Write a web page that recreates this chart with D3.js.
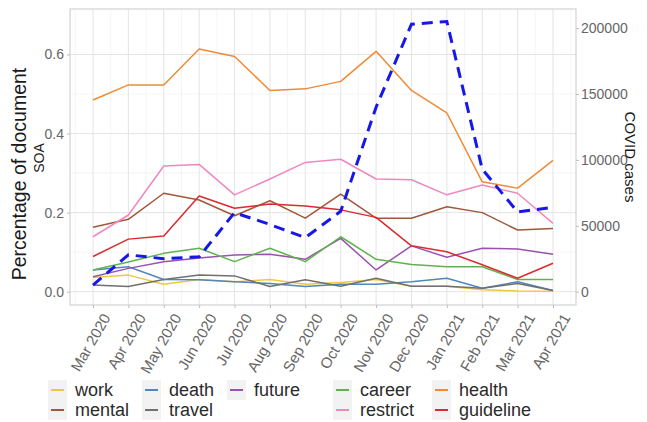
<!DOCTYPE html>
<html>
<head>
<meta charset="utf-8">
<script src="https://cdn.jsdelivr.net/npm/d3@7"></script>
<style>
  html, body { margin: 0; padding: 0; background: #fff; }
  svg { display: block; font-family: "Liberation Sans", Arial, sans-serif; }
</style>
</head>
<body>
<svg id="chart" width="647" height="422"></svg>
<script>
// Monthly share of documents per theme, with monthly COVID cases
const months = ["Mar 2020", "Apr 2020", "May 2020", "Jun 2020", "Jul 2020", "Aug 2020", "Sep 2020",
                "Oct 2020", "Nov 2020", "Dec 2020", "Jan 2021", "Feb 2021", "Mar 2021", "Apr 2021"];

const work      = [0.036, 0.042, 0.019, 0.031, 0.025, 0.031, 0.019, 0.023, 0.031, 0.014, 0.014, 0.005, 0.002, 0.001];
const mental    = [0.163, 0.183, 0.249, 0.232, 0.192, 0.230, 0.186, 0.247, 0.186, 0.186, 0.215, 0.200, 0.156, 0.160];
const death     = [0.055, 0.063, 0.031, 0.030, 0.025, 0.021, 0.013, 0.019, 0.019, 0.025, 0.034, 0.009, 0.025, 0.003];
const travel    = [0.017, 0.013, 0.031, 0.042, 0.040, 0.013, 0.030, 0.014, 0.034, 0.014, 0.014, 0.009, 0.021, 0.003];
const future    = [0.038, 0.059, 0.076, 0.085, 0.093, 0.095, 0.082, 0.135, 0.055, 0.116, 0.087, 0.110, 0.108, 0.095];
const career    = [0.055, 0.075, 0.097, 0.110, 0.076, 0.110, 0.076, 0.139, 0.082, 0.069, 0.063, 0.063, 0.031, 0.031];
const restrict  = [0.139, 0.194, 0.318, 0.322, 0.245, 0.285, 0.327, 0.335, 0.285, 0.283, 0.245, 0.270, 0.249, 0.173];
const health    = [0.485, 0.523, 0.523, 0.614, 0.595, 0.509, 0.513, 0.532, 0.608, 0.509, 0.452, 0.278, 0.262, 0.332];
const guideline = [0.089, 0.133, 0.141, 0.242, 0.211, 0.222, 0.217, 0.207, 0.188, 0.116, 0.101, 0.068, 0.034, 0.072];

const covidCases = [5000, 28000, 25000, 26500, 60000, 51000, 41000, 61000, 140000, 203000, 205000, 93000, 60500, 64000];

const leftTicks  = [0.0, 0.2, 0.4, 0.6];
const rightTicks = [0, 50000, 100000, 150000, 200000];
const casesPerUnit = 300000; // secondary axis: cases = share * 300000

const series = [
  { name: "work",      values: work,      color: "#EDC845" },
  { name: "mental",    values: mental,    color: "#A0583A" },
  { name: "death",     values: death,     color: "#5086C2" },
  { name: "travel",    values: travel,    color: "#707070" },
  { name: "future",    values: future,    color: "#9A52AE" },
  { name: "career",    values: career,    color: "#5FB34E" },
  { name: "restrict",  values: restrict,  color: "#EE88BF" },
  { name: "health",    values: health,    color: "#F08A35" },
  { name: "guideline", values: guideline, color: "#DA2B30" }
];

const svg = d3.select("#chart");
const panel = { left: 70, right: 576, top: 9, bottom: 305 };

const x = d3.scaleLinear().domain([-0.65, months.length - 1 + 0.65]).range([panel.left, panel.right]);
const y = d3.scaleLinear().domain([-0.0336, 0.715]).range([panel.bottom, panel.top]);
const yCases = d3.scaleLinear().domain(y.domain().map(v => v * casesPerUnit)).range(y.range());

// grid: minor then major
const g = svg.append("g");
const minorX = d3.range(-0.5, months.length, 1);
const minorY = [0.1, 0.3, 0.5];
g.selectAll(".mx").data(minorX).join("line")
  .attr("x1", d => x(d)).attr("x2", d => x(d)).attr("y1", panel.top).attr("y2", panel.bottom)
  .attr("stroke", "#f1f1f1").attr("stroke-width", 0.7);
g.selectAll(".my").data(minorY).join("line")
  .attr("y1", d => y(d)).attr("y2", d => y(d)).attr("x1", panel.left).attr("x2", panel.right)
  .attr("stroke", "#f1f1f1").attr("stroke-width", 0.7);
g.selectAll(".Mx").data(d3.range(months.length)).join("line")
  .attr("x1", d => x(d)).attr("x2", d => x(d)).attr("y1", panel.top).attr("y2", panel.bottom)
  .attr("stroke", "#e4e4e4").attr("stroke-width", 1);
g.selectAll(".My").data(leftTicks).join("line")
  .attr("y1", d => y(d)).attr("y2", d => y(d)).attr("x1", panel.left).attr("x2", panel.right)
  .attr("stroke", "#e4e4e4").attr("stroke-width", 1);

// theme lines
const line = d3.line().x((d, i) => x(i)).y(d => y(d));
svg.append("g").selectAll("path").data(series).join("path")
  .attr("d", d => line(d.values))
  .attr("fill", "none").attr("stroke", d => d.color).attr("stroke-width", 1.5)
  .attr("stroke-linejoin", "round");

// COVID cases on the secondary scale
const caseLine = d3.line().x((d, i) => x(i)).y(d => yCases(d));
svg.append("path").attr("d", caseLine(covidCases))
  .attr("fill", "none").attr("stroke", "#1717E8").attr("stroke-width", 3)
  .attr("stroke-dasharray", "11,7");

// panel border
svg.append("rect").attr("x", panel.left).attr("y", panel.top)
  .attr("width", panel.right - panel.left).attr("height", panel.bottom - panel.top)
  .attr("fill", "none").attr("stroke", "#d2d2d2").attr("stroke-width", 1.2);

// axes
const axisText = "#666666";
const styleAxis = sel => {
  sel.select(".domain").remove();
  sel.selectAll(".tick line").attr("stroke", "#bdbdbd");
  sel.selectAll(".tick text").attr("fill", axisText).style("font-size", "14px")
    .style("font-family", "'Liberation Sans', Arial, sans-serif");
};

svg.append("g").attr("transform", `translate(${panel.left},0)`)
  .call(d3.axisLeft(y).tickValues(leftTicks).tickFormat(d3.format(".1f")).tickSize(3).tickPadding(3))
  .call(styleAxis);

svg.append("g").attr("transform", `translate(${panel.right},0)`)
  .call(d3.axisRight(yCases).tickValues(rightTicks).tickFormat(d3.format("d")).tickSize(3).tickPadding(2))
  .call(styleAxis);

const xAxis = svg.append("g").attr("transform", `translate(0,${panel.bottom})`)
  .call(d3.axisBottom(x).tickValues(d3.range(months.length)).tickFormat(i => months[i]).tickSize(3))
  .call(styleAxis);
xAxis.selectAll(".tick text")
  .style("font-size", "15px")
  .attr("text-anchor", "end")
  .attr("transform", "translate(13,10) rotate(-60)")
  .attr("x", 0).attr("y", 0).attr("dy", "0.35em");

// axis titles
svg.append("text").attr("transform", "translate(26,174) rotate(-90)")
  .attr("text-anchor", "middle").attr("fill", "#1a1a1a").style("font-size", "19.5px")
  .text("Percentage of document");
svg.append("text").attr("transform", "translate(44,158) rotate(-90)")
  .attr("text-anchor", "middle").attr("fill", "#1a1a1a").style("font-size", "14px")
  .text("SOA");
svg.append("text").attr("transform", "translate(625,157) rotate(90)")
  .attr("text-anchor", "middle").attr("fill", "#1a1a1a").style("font-size", "15px")
  .text("COVID cases");

// legend: two rows, filled column by column
const legendCols = [48, 142, 227, 333, 432];
const legendRows = [390, 410];
const slots = [[0, 0], [0, 1], [1, 0], [1, 1], [2, 0], [3, 0], [3, 1], [4, 0], [4, 1]];
const lg = svg.append("g");
series.forEach((s, i) => {
  const [c, r] = slots[i];
  const kx = legendCols[c], ky = legendRows[r];
  lg.append("rect").attr("x", kx).attr("y", ky - 10).attr("width", 19).attr("height", 20).attr("fill", "#f2f2f2");
  lg.append("line").attr("x1", kx + 3).attr("x2", kx + 16).attr("y1", ky).attr("y2", ky)
    .attr("stroke", s.color).attr("stroke-width", 2);
  lg.append("text").attr("x", kx + 27).attr("y", ky).attr("dy", "0.35em")
    .attr("fill", "#2b2b2b").style("font-size", "18px").text(s.name);
});
</script>
</body>
</html>
